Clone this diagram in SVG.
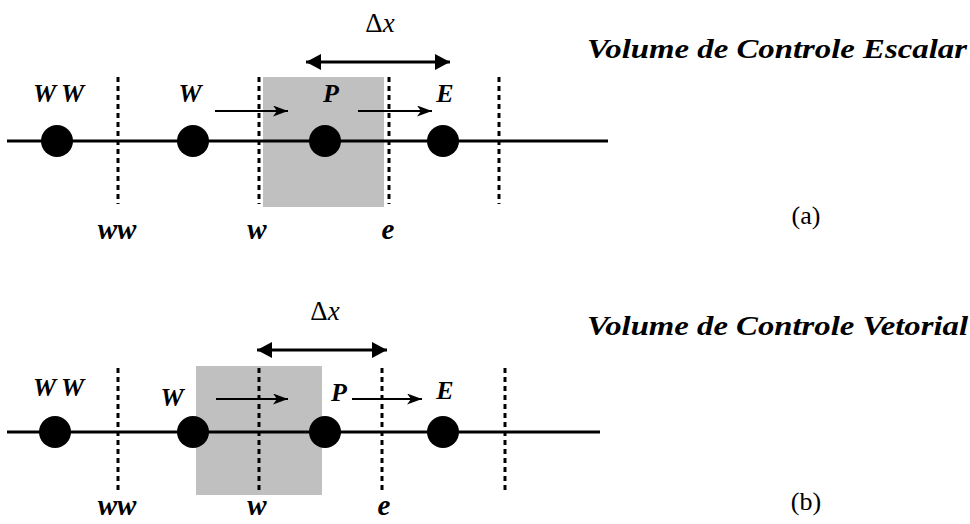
<svg xmlns="http://www.w3.org/2000/svg" width="970" height="524" viewBox="0 0 970 524">
<style>
.axis{stroke:#000;stroke-width:3;fill:none}
.face{stroke:#000;stroke-width:3;stroke-dasharray:5 4;fill:none}
.cv{fill:#c0c0c0}
.dot{fill:#000}
.lbl{font-family:"Liberation Serif","Times New Roman",serif;font-style:italic;font-weight:bold;font-size:26px;fill:#000;text-anchor:middle}
.flbl{font-family:"Liberation Serif","Times New Roman",serif;font-style:italic;font-weight:bold;font-size:29px;fill:#000;text-anchor:middle}
.dx{font-family:"Liberation Serif","Times New Roman",serif;font-size:27px;fill:#000;text-anchor:middle}
.ttl{font-family:"Liberation Serif","Times New Roman",serif;font-style:italic;font-weight:bold;font-size:27px;fill:#000}
.cap{font-family:"Liberation Serif","Times New Roman",serif;font-size:26px;fill:#000;text-anchor:middle}
.flow{stroke:#000;stroke-width:1.8;fill:none;marker-end:url(#head)}
.span{stroke:#000;stroke-width:3;fill:none;marker-start:url(#tri);marker-end:url(#tri)}
</style>
<defs>
<marker id="head" markerUnits="userSpaceOnUse" markerWidth="16" markerHeight="12" refX="15" refY="5.5" orient="auto">
<path d="M0,0 L15,5.5 L0,11 L4,5.5 z" fill="#000"/>
</marker>
<marker id="tri" markerUnits="userSpaceOnUse" markerWidth="16" markerHeight="17" refX="15" refY="8" orient="auto-start-reverse">
<path d="M0,0 L15,8 L0,16 z" fill="#000"/>
</marker>
</defs>
<rect width="970" height="524" fill="#fff"/>

<!-- Panel (a) -->
<g id="panel-a">
<rect id="cv-a" class="cv" x="263" y="77" width="121" height="130"/>
<line class="axis" x1="7" y1="141" x2="608" y2="141"/>
<g id="faces-a">
<line class="face" x1="118" y1="77" x2="118" y2="204"/>
<line class="face" x1="259" y1="77" x2="259" y2="204"/>
<line class="face" x1="389" y1="77" x2="389" y2="204"/>
<line class="face" x1="499" y1="77" x2="499" y2="204"/>
<text class="flbl" x="117" y="239">ww</text>
<text class="flbl" x="257" y="239">w</text>
<text class="flbl" x="388" y="239">e</text>
</g>
<g id="a-WW"><circle class="dot" cx="57" cy="141" r="16"/><text class="lbl" x="61" y="102" letter-spacing="5">WW</text></g>
<g id="a-W"><circle class="dot" cx="193" cy="141" r="16"/><text class="lbl" x="190" y="102">W</text></g>
<g id="a-P"><circle class="dot" cx="325" cy="141" r="16"/><text class="lbl" x="331" y="102">P</text></g>
<g id="a-E"><circle class="dot" cx="443" cy="141" r="16"/><text class="lbl" x="445" y="102">E</text></g>
<text class="dx" x="380" y="32">Δ<tspan font-style="italic">x</tspan></text>
<text class="ttl" x="587" y="58" textLength="380" lengthAdjust="spacingAndGlyphs">Volume de Controle Escalar</text>
<text class="cap" x="806" y="224">(a)</text>
</g>

<!-- Panel (b) -->
<g id="panel-b">
<rect id="cv-b" class="cv" x="196" y="366" width="126" height="129"/>
<line class="axis" x1="7" y1="432" x2="600" y2="432"/>
<g id="faces-b">
<line class="face" x1="118" y1="368" x2="118" y2="494"/>
<line class="face" x1="259" y1="368" x2="259" y2="494"/>
<line class="face" x1="382" y1="368" x2="382" y2="494"/>
<line class="face" x1="505" y1="368" x2="505" y2="494"/>
<text class="flbl" x="117" y="515" font-size="28">ww</text>
<text class="flbl" x="257" y="515" font-size="28">w</text>
<text class="flbl" x="384" y="515" font-size="28">e</text>
</g>
<g id="b-WW"><circle class="dot" cx="55" cy="432" r="16"/><text class="lbl" x="61" y="396" letter-spacing="5">WW</text></g>
<g id="b-W"><circle class="dot" cx="193" cy="432" r="16"/><text class="lbl" x="172" y="406">W</text></g>
<g id="b-P"><circle class="dot" cx="325" cy="432" r="16"/><text class="lbl" x="339" y="401">P</text></g>
<g id="b-E"><circle class="dot" cx="443" cy="432" r="16"/><text class="lbl" x="445" y="399">E</text></g>
<text class="dx" x="325" y="320">Δ<tspan font-style="italic">x</tspan></text>
<text class="ttl" x="587" y="335" textLength="381" lengthAdjust="spacingAndGlyphs">Volume de Controle Vetorial</text>
<text class="cap" x="806" y="510">(b)</text>
</g>

<g id="connectors">
<line class="span" x1="306" y1="62" x2="450" y2="62"/>
<line class="flow" x1="215" y1="111" x2="288" y2="111"/>
<line class="flow" x1="358" y1="111" x2="432" y2="111"/>
<line class="span" x1="257" y1="350" x2="387" y2="350"/>
<line class="flow" x1="216" y1="399" x2="288" y2="399"/>
<line class="flow" x1="352" y1="399" x2="422" y2="399"/>
</g>
</svg>
